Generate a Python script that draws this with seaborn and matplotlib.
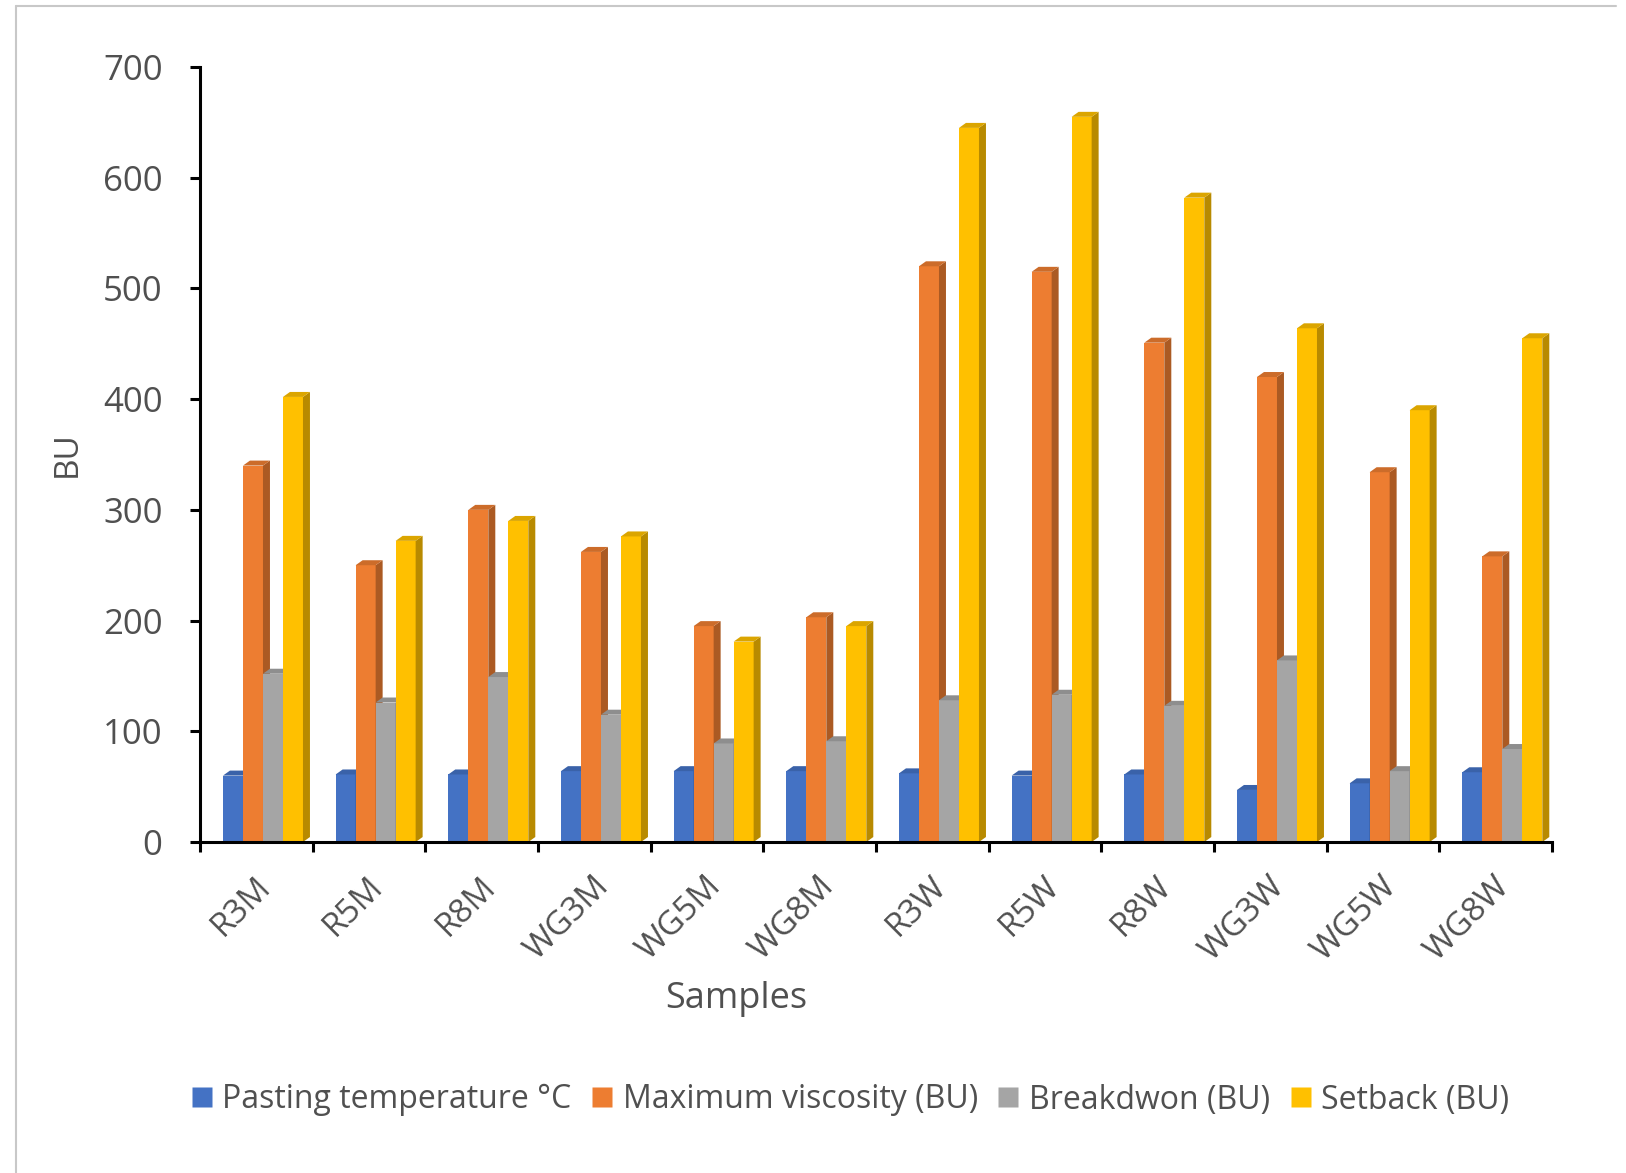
import numpy as np
import pandas as pd
import matplotlib
matplotlib.use("Agg")
import matplotlib.pyplot as plt
import matplotlib.colors as mcolors
from matplotlib.patches import Polygon
from matplotlib.lines import Line2D
import seaborn as sns

# ---- data -------------------------------------------------------------
samples = ["R3M", "R5M", "R8M", "WG3M", "WG5M", "WG8M",
           "R3W", "R5W", "R8W", "WG3W", "WG5W", "WG8W"]
series_names = ["Pasting temperature °C", "Maximum viscosity (BU)",
                "Breakdwon (BU)", "Setback (BU)"]
pasting_temp = [60, 61, 61, 64, 64, 64, 62, 60, 61, 47, 53, 63]
max_viscosity = [340, 250, 300, 262, 195, 203, 520, 515, 451, 420, 334, 258]
breakdown = [152, 126, 149, 115, 89, 91, 128, 133, 123, 164, 64, 84]
setback = [402, 272, 290, 276, 181, 195, 645, 655, 582, 464, 390, 455]
y_ticks = [0, 100, 200, 300, 400, 500, 600, 700]

colors = ["#4472C4", "#ED7D31", "#A5A5A5", "#FFC000"]

df = pd.DataFrame({
    "Sample": samples * 4,
    "Parameter": np.repeat(series_names, len(samples)),
    "Value": pasting_temp + max_viscosity + breakdown + setback,
})

# ---- figure -----------------------------------------------------------
sns.set_theme(style="white")
plt.rcParams["font.family"] = ["Open Sans", "DejaVu Sans"]
text_color = "#505050"

W, H = 1626, 1173
fig = plt.figure(figsize=(W / 100, H / 100), dpi=100)
fig.patch.set_facecolor("white")

ax_left, ax_right, ax_top, ax_bottom = 200, 1552, 67, 842
ax = fig.add_axes([ax_left / W, 1 - ax_bottom / H,
                   (ax_right - ax_left) / W, (ax_bottom - ax_top) / H])

sns.barplot(data=df, x="Sample", y="Value", hue="Parameter",
            order=samples, hue_order=series_names, palette=colors,
            width=0.71, saturation=1, dodge=True, legend=False,
            edgecolor="none", linewidth=0, ax=ax)

# ---- 3D-style side and top faces for every bar ------------------------
shift = 0.559          # offset of group centre from the category boundary
ax.set_xlim(-shift, len(samples) - shift)
ax.set_ylim(0, 700)

dx = 0.062             # depth of the bars in category units
dy = 4.5               # depth of the bars in value units
n = len(samples)
for i, bar in enumerate(ax.patches[: 4 * n]):
    s = i // n
    base = mcolors.to_rgb(colors[s])
    side = tuple(c * 0.72 for c in base)
    top = tuple(c * 0.86 for c in base)
    x0 = bar.get_x()
    x1 = x0 + bar.get_width()
    h = bar.get_height()
    bar.set_zorder(3 + s)
    ax.add_patch(Polygon([(x1, 0), (x1 + dx, dy), (x1 + dx, h + dy), (x1, h)],
                         closed=True, facecolor=side, edgecolor="none",
                         zorder=3 + s + 0.5))
    ax.add_patch(Polygon([(x0, h), (x0 + dx, h + dy), (x1 + dx, h + dy), (x1, h)],
                         closed=True, facecolor=top, edgecolor="none",
                         zorder=3 + s + 0.5))

# ---- axes styling -----------------------------------------------------
for side_name in ["top", "right"]:
    ax.spines[side_name].set_visible(False)
for side_name in ["left", "bottom"]:
    ax.spines[side_name].set_color("black")
    ax.spines[side_name].set_linewidth(2.2)
    ax.spines[side_name].set_zorder(10)

ax.set_yticks(y_ticks)
ax.set_yticklabels([str(v) for v in y_ticks])
ax.tick_params(axis="y", which="major", direction="out", length=7,
               width=2.2, color="black", pad=20, labelsize=25,
               labelcolor=text_color, left=True)

boundaries = np.arange(len(samples) + 1) - shift
ax.set_xticks(boundaries)
ax.set_xticklabels([""] * len(boundaries))
ax.tick_params(axis="x", which="major", direction="out", length=7,
               width=2.2, color="black", bottom=True)
ax.set_xticks(np.arange(len(samples)) - 0.08, minor=True)
ax.set_xticklabels(samples, minor=True, rotation=45, ha="right",
                   va="top", rotation_mode="anchor")
ax.tick_params(axis="x", which="minor", length=0, pad=20,
               labelsize=24, labelcolor=text_color)

ax.set_xlabel("Samples", fontsize=26, color=text_color)
ax.xaxis.set_label_coords((736 - ax_left) / (ax_right - ax_left),
                          -(981 - ax_bottom) / (ax_bottom - ax_top))
ax.set_ylabel("BU", fontsize=24, color=text_color)
ax.yaxis.set_label_coords(-(200 - 84) / (ax_right - ax_left), 0.5)
ax.grid(False)

# ---- legend ------------------------------------------------------------
handles = [Line2D([0], [0], marker="s", linestyle="none", markersize=15,
                  markerfacecolor=c, markeredgecolor="none") for c in colors]
fig.legend(handles, series_names, loc="center",
           bbox_to_anchor=(850 / W, 1 - 1100 / H), ncol=4, frameon=False,
           fontsize=23, labelcolor=text_color, handlelength=0.7,
           handletextpad=0.3, columnspacing=0.6)

# ---- outer frame lines ---------------------------------------------------
fig.add_artist(Line2D([16 / W, 16 / W], [0, 1 - 6 / H],
                      transform=fig.transFigure, color="#c8c8c8", lw=1.5))
fig.add_artist(Line2D([16 / W, 1616 / W], [1 - 6 / H, 1 - 6 / H],
                      transform=fig.transFigure, color="#c8c8c8", lw=1.5))

fig.savefig("out.png", dpi=100, facecolor="white")
